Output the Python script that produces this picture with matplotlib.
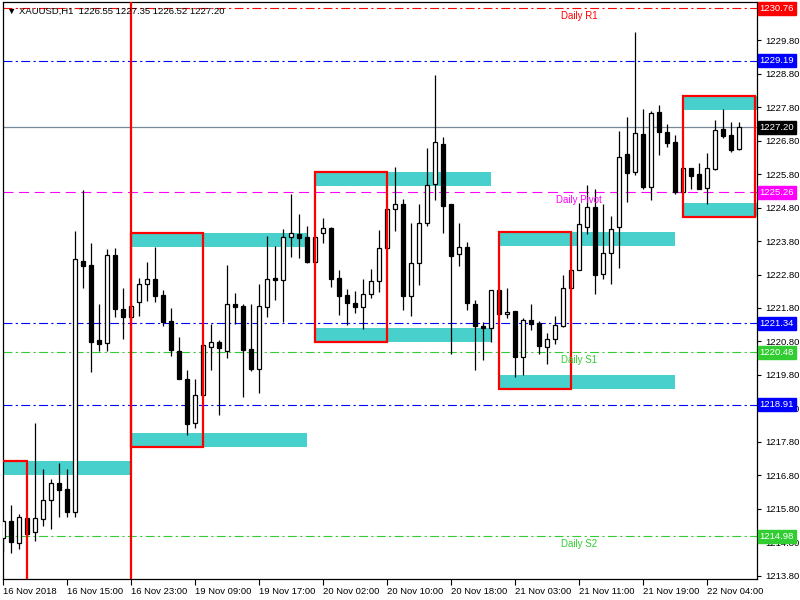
import numpy as np
import matplotlib
matplotlib.use("Agg")
import matplotlib.pyplot as plt
from matplotlib.patches import Rectangle

plt.rcParams['font.family'] = ['Liberation Sans', 'DejaVu Sans']

# XAUUSD H1 candles (open, high, low, close), oldest first
opens = [1214.92, 1215.42, 1214.79, 1215.51, 1215.11, 1215.48, 1216.07, 1216.58, 1216.38, 1215.71,
         1223.20, 1223.08, 1220.84, 1220.76, 1223.38, 1221.78, 1221.53, 1221.98, 1222.53, 1222.68,
         1222.18, 1221.40, 1220.51, 1219.69, 1218.36, 1219.21, 1220.64, 1220.77, 1220.52, 1221.93,
         1221.85, 1220.57, 1219.99, 1221.83, 1222.70, 1222.65, 1223.93, 1224.00, 1223.91, 1223.16,
         1224.03, 1224.18, 1222.71, 1222.18, 1221.96, 1221.83, 1222.23, 1222.62, 1223.58, 1224.77,
         1224.90, 1222.16, 1223.13, 1224.34, 1225.52, 1226.70, 1224.90, 1223.40, 1223.61, 1221.93,
         1221.25, 1221.20, 1222.33, 1221.61, 1221.70, 1220.34, 1221.45, 1221.34, 1220.64, 1220.86,
         1221.25, 1222.41, 1222.95, 1224.23, 1224.82, 1222.83, 1223.43, 1224.21, 1226.40, 1225.85,
         1226.99, 1225.42, 1227.65, 1227.05, 1226.75, 1225.27, 1225.97, 1225.80, 1225.39, 1225.94,
         1227.15, 1226.97, 1226.55]
highs = [1215.49, 1215.90, 1215.65, 1215.55, 1218.35, 1216.98, 1216.70, 1217.18, 1216.98, 1224.10,
         1225.32, 1223.73, 1221.93, 1223.56, 1223.59, 1222.40, 1221.93, 1222.71, 1223.17, 1223.63,
         1222.33, 1221.80, 1220.94, 1219.94, 1219.69, 1220.72, 1221.31, 1220.84, 1223.08, 1222.26,
         1221.93, 1221.91, 1222.51, 1223.95, 1223.65, 1224.15, 1225.20, 1224.62, 1224.24, 1223.95,
         1224.50, 1224.21, 1222.93, 1222.36, 1222.30, 1222.66, 1222.96, 1224.13, 1224.80, 1226.00,
         1225.07, 1224.33, 1224.92, 1226.57, 1228.76, 1226.90, 1224.92, 1224.33, 1223.78, 1222.03,
         1221.38, 1222.35, 1222.36, 1222.41, 1221.72, 1221.50, 1221.91, 1221.41, 1221.04, 1221.55,
         1222.78, 1222.98, 1224.94, 1225.47, 1225.37, 1224.92, 1224.54, 1227.08, 1227.50, 1230.04,
         1227.76, 1227.69, 1227.86, 1227.30, 1226.96, 1225.99, 1225.99, 1226.14, 1226.44, 1227.41,
         1227.75, 1227.35, 1227.35]
lows = [1214.51, 1214.48, 1214.61, 1215.00, 1214.84, 1215.28, 1215.19, 1215.55, 1215.55, 1215.55,
        1222.40, 1219.89, 1220.52, 1220.52, 1221.53, 1220.87, 1221.48, 1221.55, 1222.01, 1221.98,
        1221.25, 1220.36, 1219.67, 1218.00, 1218.21, 1219.18, 1219.94, 1218.59, 1220.31, 1221.33,
        1219.14, 1219.92, 1219.26, 1221.52, 1222.03, 1221.38, 1223.33, 1223.30, 1223.15, 1223.14,
        1223.73, 1222.43, 1221.60, 1221.30, 1221.65, 1221.16, 1222.11, 1222.28, 1223.55, 1224.10,
        1221.75, 1221.56, 1222.50, 1224.25, 1225.02, 1224.04, 1220.41, 1223.06, 1221.75, 1219.96,
        1220.26, 1220.79, 1221.60, 1221.50, 1219.74, 1219.79, 1221.13, 1220.42, 1220.12, 1220.72,
        1221.23, 1222.38, 1222.93, 1224.01, 1222.21, 1222.66, 1222.53, 1223.00, 1224.97, 1225.77,
        1225.37, 1225.02, 1226.37, 1226.62, 1225.22, 1225.25, 1225.35, 1225.35, 1224.90, 1225.92,
        1226.87, 1226.47, 1226.52]
closes = [1215.43, 1214.81, 1215.54, 1215.03, 1215.51, 1216.07, 1216.58, 1216.37, 1215.71, 1223.25,
          1223.06, 1220.79, 1220.72, 1223.38, 1221.76, 1221.53, 1221.87, 1222.53, 1222.68, 1222.16,
          1221.38, 1220.54, 1219.69, 1218.33, 1219.19, 1220.69, 1220.77, 1220.61, 1221.93, 1221.83,
          1220.54, 1219.97, 1221.85, 1222.68, 1222.65, 1223.91, 1224.03, 1223.89, 1223.18, 1223.93,
          1224.18, 1222.68, 1222.16, 1221.95, 1221.83, 1222.23, 1222.62, 1223.58, 1224.77, 1224.92,
          1222.16, 1223.13, 1224.33, 1225.49, 1226.75, 1224.85, 1223.35, 1223.63, 1221.96, 1221.27,
          1221.20, 1222.33, 1221.63, 1221.68, 1220.34, 1221.45, 1221.31, 1220.67, 1220.86, 1221.28,
          1222.41, 1222.95, 1224.30, 1224.82, 1222.80, 1223.43, 1224.16, 1226.30, 1225.82, 1227.02,
          1225.42, 1227.62, 1227.05, 1226.73, 1225.27, 1225.97, 1225.75, 1225.35, 1225.97, 1227.12,
          1226.95, 1226.52, 1227.20]

# session boxes: first bar, top and bottom price
box_start = [-6, 16, 39, 62, 85]
box_top = [1217.22, 1224.04, 1225.86, 1224.07, 1228.13]
box_bottom = [1212.80, 1217.65, 1220.79, 1219.39, 1224.52]
box_len = 9
zone_len = 22
zone_height = 0.41

# pivot levels: (price, colour, label, style)
levels = [
    (1230.76, '#ff0000', 'Daily R1', 'dashdot'),
    (1229.19, '#0000ff', '', 'dashdot'),
    (1225.26, '#ff00ff', 'Daily Pivot', 'dashed'),
    (1221.34, '#0000ff', '', 'dashdot'),
    (1220.48, '#32cd32', 'Daily S1', 'dashdot'),
    (1218.91, '#0000ff', '', 'dashdot'),
    (1214.98, '#32cd32', 'Daily S2', 'dashdot'),
]
last_price = 1227.20

price_ticks = [1213.80, 1214.80, 1215.80, 1216.80, 1217.80, 1218.80, 1219.80, 1220.80,
               1221.80, 1222.80, 1223.80, 1224.80, 1225.80, 1226.80, 1227.80, 1228.80, 1229.80]
time_ticks = [0, 8, 16, 24, 32, 40, 48, 56, 64, 72, 80, 88]
time_labels = ['16 Nov 2018', '16 Nov 15:00', '16 Nov 23:00', '19 Nov 09:00', '19 Nov 17:00',
               '20 Nov 02:00', '20 Nov 10:00', '20 Nov 18:00', '21 Nov 03:00', '21 Nov 11:00',
               '21 Nov 19:00', '22 Nov 04:00']

fig = plt.figure(figsize=(8, 6), dpi=100)
ax = fig.add_axes([2.5 / 800, 21 / 600, 754.5 / 800, 577 / 600])

o = np.array(opens)
h = np.array(highs)
l = np.array(lows)
c = np.array(closes)
x = np.arange(len(o))

# zones and boxes
for s, top, bot in zip(box_start, box_top, box_bottom):
    ax.add_patch(Rectangle((s, top - zone_height), zone_len, zone_height,
                           facecolor='#48d1cc', edgecolor='none', zorder=1))
    ax.add_patch(Rectangle((s, bot), zone_len, zone_height,
                           facecolor='#48d1cc', edgecolor='none', zorder=1))
    ax.add_patch(Rectangle((s, bot), box_len, top - bot, facecolor='none',
                           edgecolor='#ff0000', linewidth=1.6, zorder=5))
ax.axvline(16, color='#ff0000', linewidth=1.6, zorder=5)

# horizontal levels
styles = {'dashdot': (0, (8, 3, 2, 3)), 'dashed': (0, (9, 5))}
for price, col, lab, st in levels:
    ax.axhline(price, color=col, linewidth=0.8, linestyle=styles[st], zorder=2)
    if lab:
        ax.annotate(lab, xy=(72, price), xytext=(0, -2), textcoords='offset points',
                    ha='center', va='top', color=col, fontsize=7, zorder=6)
    ax.annotate(f'{price:.2f}', xy=(1, price), xycoords=('axes fraction', 'data'),
                xytext=(2, 0), textcoords='offset points', ha='left', va='center',
                color='white', fontsize=6.8, annotation_clip=False, zorder=10,
                bbox=dict(boxstyle='square,pad=0.22', fc=col, ec=col))
ax.axhline(last_price, color='#778899', linewidth=0.9, zorder=2)
ax.annotate(f'{last_price:.2f}', xy=(1, last_price), xycoords=('axes fraction', 'data'),
            xytext=(2, 0), textcoords='offset points', ha='left', va='center',
            color='white', fontsize=6.8, annotation_clip=False, zorder=10,
            bbox=dict(boxstyle='square,pad=0.22', fc='black', ec='black'))

# candles
ax.vlines(x, l, h, color='black', linewidth=0.9, zorder=3)
bull = c >= o
body_lo = np.minimum(o, c)
body_h = np.maximum(np.abs(c - o), 0.04)
ax.bar(x[bull], body_h[bull], bottom=body_lo[bull], width=0.55,
       facecolor='white', edgecolor='black', linewidth=0.9, zorder=4)
ax.bar(x[~bull], body_h[~bull], bottom=body_lo[~bull], width=0.55,
       facecolor='black', edgecolor='black', linewidth=0.9, zorder=4)

ax.set_xlim(-0.1, 94.25)
ax.set_ylim(1213.70, 1230.945)

ax.yaxis.tick_right()
ax.set_yticks(price_ticks)
ax.set_yticklabels([f'{p:.2f}' for p in price_ticks])
ax.tick_params(axis='y', length=3, width=0.8, labelsize=6.8, pad=3)
ax.set_xticks(time_ticks)
ax.set_xticklabels(time_labels)
ax.tick_params(axis='x', length=4, width=0.8, labelsize=6.8, pad=2)
for t in ax.get_xticklabels():
    t.set_horizontalalignment('left')
for sp in ax.spines.values():
    sp.set_linewidth(0.9)

ax.text(0.006, 0.992, '\u25bc XAUUSD,H1  1226.55 1227.35 1226.52 1227.20',
        transform=ax.transAxes, ha='left', va='top', fontsize=6.8, zorder=11)

fig.savefig('out.png', dpi=100)
